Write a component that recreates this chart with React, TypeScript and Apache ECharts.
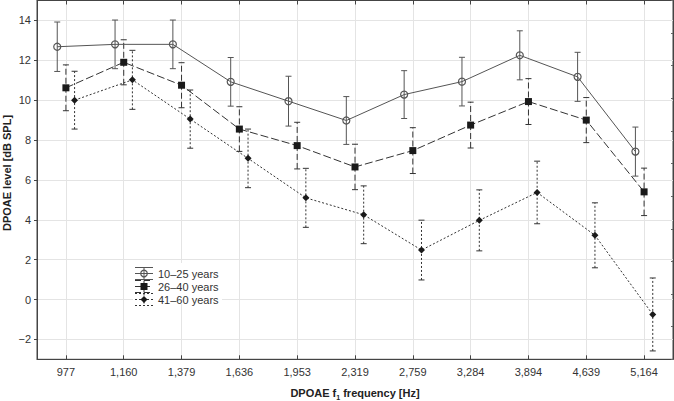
import React, { useEffect, useRef } from 'react';
import * as echarts from 'echarts';

const categories = ['977', '1,160', '1,379', '1,636', '1,953', '2,319', '2,759', '3,284', '3,894', '4,639', '5,164'];
const yTickValues = [-2, 0, 2, 4, 6, 8, 10, 12, 14];

const seriesNames = ['10–25 years', '26–40 years', '41–60 years'];
const mean1025 = [12.68, 12.8, 12.8, 10.92, 9.95, 8.98, 10.28, 10.93, 12.25, 11.17, 7.42];
const err1025 = [1.24, 1.22, 1.22, 1.22, 1.25, 1.2, 1.2, 1.22, 1.23, 1.23, 1.23];
const mean2640 = [10.62, 11.9, 10.75, 8.55, 7.72, 6.65, 7.47, 8.75, 9.93, 9.0, 5.4];
const err2640 = [1.15, 1.13, 1.13, 1.12, 1.17, 1.14, 1.15, 1.15, 1.15, 1.13, 1.19];
const mean4160 = [10.0, 11.02, 9.05, 7.08, 5.1, 4.25, 2.48, 3.97, 5.37, 3.22, -0.75];
const err4160 = [1.45, 1.48, 1.46, 1.47, 1.48, 1.45, 1.5, 1.53, 1.57, 1.63, 1.83];

const FONT = '"Liberation Sans", Arial, Helvetica, sans-serif';

export default function App() {
  const ref = useRef<HTMLDivElement>(null);

  useEffect(() => {
    const chart = echarts.init(ref.current!, null, { renderer: 'svg' });
    const catIdx = categories.map((_, i) => i);

    const groups = [
      { name: seriesNames[0], mean: mean1025, err: err1025, offset: -0.15, symbol: 'circle', size: 7,
        lineColor: '#555', lineDash: 'solid' as any, barDash: null as any, fill: 'rgba(255,255,255,0)', border: '#555', borderWidth: 1.2 },
      { name: seriesNames[1], mean: mean2640, err: err2640, offset: 0, symbol: 'rect', size: 7,
        lineColor: '#333', lineDash: [8, 3], barDash: [6, 3], fill: '#1a1a1a', border: '#1a1a1a', borderWidth: 0 },
      { name: seriesNames[2], mean: mean4160, err: err4160, offset: 0.15, symbol: 'diamond', size: 7,
        lineColor: '#333', lineDash: [2, 2], barDash: [2, 2], fill: '#1a1a1a', border: '#1a1a1a', borderWidth: 0 },
    ];

    const series: any[] = [];
    groups.forEach((g) => {
      series.push({
        type: 'custom',
        silent: true,
        z: 2,
        data: g.mean.map((m, i) => [i + g.offset, m - g.err[i], m + g.err[i]]),
        renderItem: (params: any, api: any) => {
          const x = api.value(0);
          const lo = api.coord([x, api.value(1)]);
          const hi = api.coord([x, api.value(2)]);
          const cap = 3;
          const st = { stroke: g.lineColor, lineWidth: 1, lineDash: g.barDash, fill: null };
          const cs = { stroke: g.lineColor, lineWidth: 1, fill: null };
          return {
            type: 'group',
            children: [
              { type: 'line', shape: { x1: lo[0], y1: lo[1], x2: hi[0], y2: hi[1] }, style: st },
              { type: 'line', shape: { x1: hi[0] - cap, y1: hi[1], x2: hi[0] + cap, y2: hi[1] }, style: cs },
              { type: 'line', shape: { x1: lo[0] - cap, y1: lo[1], x2: lo[0] + cap, y2: lo[1] }, style: cs },
            ],
          };
        },
      });
      series.push({
        type: 'line',
        name: g.name,
        z: 3,
        data: g.mean.map((m, i) => [i + g.offset, m]),
        symbol: g.symbol,
        symbolSize: g.size,
        showSymbol: true,
        lineStyle: { color: g.lineColor, width: 1, type: g.lineDash },
        itemStyle: { color: g.fill, borderColor: g.border, borderWidth: g.borderWidth },
      });
    });

    // legend drawn as graphic elements, on a white box that hides the grid lines
    const legendGraphics: any[] = [
      { type: 'rect', z: 10, shape: { x: 133, y: 263, width: 89, height: 41 }, style: { fill: '#fff', stroke: null } },
    ];
    const lx = 144;
    const lyStart = 273.5;
    groups.forEach((g, k) => {
      const cy = lyStart + k * 13;
      const dash = g.barDash;
      const ls = { stroke: g.lineColor, lineWidth: 1, lineDash: dash };
      legendGraphics.push(
        { type: 'line', z: 11, shape: { x1: lx - 9, y1: cy - 6, x2: lx + 9, y2: cy - 6 }, style: ls },
        { type: 'line', z: 11, shape: { x1: lx - 9, y1: cy, x2: lx + 9, y2: cy }, style: ls },
        { type: 'line', z: 11, shape: { x1: lx - 9, y1: cy + 6, x2: lx + 9, y2: cy + 6 }, style: ls },
        { type: 'line', z: 11, shape: { x1: lx, y1: cy - 6, x2: lx, y2: cy + 6 }, style: ls },
      );
      if (g.symbol === 'circle') {
        legendGraphics.push({ type: 'circle', z: 12, shape: { cx: lx, cy, r: 3.3 }, style: { fill: 'rgba(255,255,255,0)', stroke: '#555', lineWidth: 1.2 } });
      } else if (g.symbol === 'rect') {
        legendGraphics.push({ type: 'rect', z: 12, shape: { x: lx - 3.5, y: cy - 3.5, width: 7, height: 7 }, style: { fill: '#1a1a1a' } });
      } else {
        legendGraphics.push({ type: 'polygon', z: 12, shape: { points: [[lx, cy - 3.5], [lx + 3.5, cy], [lx, cy + 3.5], [lx - 3.5, cy]] }, style: { fill: '#1a1a1a' } });
      }
      legendGraphics.push({
        type: 'text', z: 12, x: 158, y: cy,
        style: { text: g.name, fill: '#333', font: `11px ${FONT}`, verticalAlign: 'middle', align: 'left' },
      });
    });

    const option: any = {
      animation: false,
      backgroundColor: '#fff',
      grid: { left: 37, right: 1, top: 0.5, bottom: 41.7, show: true, borderColor: '#444', borderWidth: 1, backgroundColor: 'transparent' },
      xAxis: [
        {
          type: 'value', min: -0.5, max: 10.5, position: 'bottom',
          axisLine: { show: true, onZero: false, lineStyle: { color: '#444', width: 1 } },
          axisTick: { show: true, inside: true, length: 4, customValues: catIdx, lineStyle: { color: '#444' } },
          axisLabel: { show: true, customValues: catIdx, formatter: (v: number) => categories[Math.round(v)], color: '#333', fontSize: 11, fontFamily: FONT, margin: 7 },
          splitLine: { show: true, lineStyle: { color: '#e4e4e4', width: 1 } },
        },
        {
          type: 'value', min: -0.5, max: 10.5, position: 'top',
          axisLine: { show: true, onZero: false, lineStyle: { color: '#444', width: 1 } },
          axisTick: { show: true, inside: true, length: 4, customValues: catIdx, lineStyle: { color: '#444' } },
          axisLabel: { show: false },
          splitLine: { show: false },
        },
      ],
      yAxis: [
        {
          type: 'value', min: -3, max: 15, position: 'left',
          axisLine: { show: true, onZero: false, lineStyle: { color: '#444', width: 1 } },
          axisTick: { show: true, inside: false, length: 3, customValues: yTickValues, lineStyle: { color: '#444' } },
          axisLabel: { show: true, customValues: yTickValues, formatter: (v: number) => (v < 0 ? '−' + Math.abs(v) : String(v)), color: '#333', fontSize: 11, fontFamily: FONT, margin: 6 },
          splitLine: { show: true, lineStyle: { color: '#e4e4e4', width: 1 } },
        },
        {
          type: 'value', min: 0, max: 11, interval: 1, position: 'right',
          axisLine: { show: true, onZero: false, lineStyle: { color: '#444', width: 1 } },
          axisTick: { show: true, inside: true, length: 2, lineStyle: { color: '#666' } },
          axisLabel: { show: false },
          splitLine: { show: false },
        },
      ],
      series,
      graphic: [
        ...legendGraphics,
        {
          type: 'text', x: 6.5, y: 173, rotation: Math.PI / 2,
          style: { text: 'DPOAE level [dB SPL]', fill: '#222', font: `bold 11px ${FONT}`, align: 'center', verticalAlign: 'middle' },
        },
        {
          type: 'text', x: 355, y: 393,
          style: {
            text: '{a|DPOAE f}{s|1}{a| frequency [Hz]}',
            align: 'center', verticalAlign: 'middle',
            rich: {
              a: { fontSize: 11, fontWeight: 'bold', fontFamily: FONT, fill: '#222', color: '#222', lineHeight: 15 },
              s: { fontSize: 7, fontWeight: 'bold', fontFamily: FONT, fill: '#222', color: '#222', lineHeight: 7, verticalAlign: 'bottom' },
            },
          },
        },
      ],
    };

    chart.setOption(option);
    return () => chart.dispose();
  }, []);

  return <div ref={ref} style={{ position: 'absolute', left: 0, top: 0, width: 674, height: 401 }} />;
}
